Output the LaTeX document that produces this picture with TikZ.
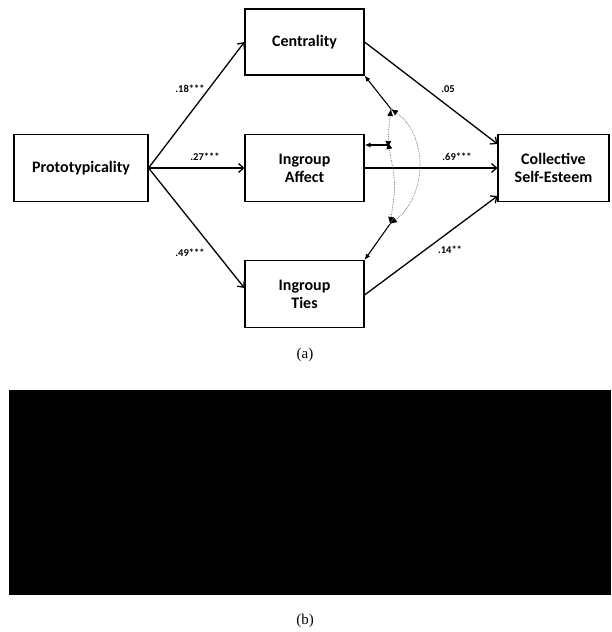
\documentclass[tikz,border=0pt]{standalone}
\usepackage{fontspec}
\setmainfont{Carlito}
\newfontfamily\capfont{Liberation Serif}
\usetikzlibrary{arrows.meta}
\begin{document}
\begin{tikzpicture}[x=1pt,y=-1pt,
  box/.style={draw,line width=1.1pt,rectangle,align=center,font=\bfseries\fontsize{16}{18}\selectfont,inner sep=0pt},
  arr/.style={line width=1.3pt,-{Straight Barb[length=5pt,width=9pt,line width=1.3pt]}},
  corr/.style={line width=1.1pt,-{Latex[length=6pt,width=5pt]}},
  dot/.style={densely dotted,line width=0.7pt,gray!80!black},
  dtip/.style={dot,{Latex[length=7pt,width=6pt,black]}-{Latex[length=7pt,width=6pt,black]}},
  coef/.style={font=\bfseries\fontsize{10.5}{12}\selectfont,inner sep=1pt},
  captxt/.style={font=\capfont\fontsize{15}{17}\selectfont}]
\useasboundingbox (0,0) rectangle (611,632);
\node[box,minimum width=134pt,minimum height=67pt] (proto) at (81,168) {Prototypicality};
\node[box,minimum width=119pt,minimum height=66pt] (cent) at (304.5,42) {Centrality};
\node[box,minimum width=119pt,minimum height=67pt] (aff) at (304.5,168) {Ingroup\\Affect};
\node[box,minimum width=119pt,minimum height=67pt] (ties) at (304.5,294) {Ingroup\\Ties};
\node[box,minimum width=111pt,minimum height=67pt] (cse) at (553.5,168) {Collective\\Self-Esteem};
% paths
\draw[arr] (proto.east) -- (cent.west);
\draw[arr] (proto.east) -- (aff.west);
\draw[arr] (proto.east) -- ([yshift=6pt]ties.west);
\draw[arr] (cent.east) -- ([yshift=24pt]cse.west);
\draw[arr] (aff.east) -- (cse.west);
\draw[arr] ([yshift=-1pt]ties.east) -- ([yshift=-28pt]cse.west);
% coefficients
\node[coef] (l1) at (190,89) {.18***};
\node[coef] (l2) at (205,157) {.27***};
\node[coef] (l3) at (190,253) {.49***};
\node[coef] (l4) at (448,89) {.05};
\node[coef] (l5) at (457,157) {.69***};
\node[coef] (l6) at (450,250) {.14**};
% correlations
\coordinate (c1) at (391,109);
\coordinate (c2) at (388,145);
\coordinate (c3) at (390,224);
\draw[corr] (c1) -- (cent.south east);
\draw[corr] (c2) -- (aff.east |- c2);
\draw[corr] (c3) -- (ties.north east);
\draw[dtip] (c1) .. controls (389,125) .. ([yshift=-3pt]c2);
\draw[dtip] ([yshift=3pt]c2) .. controls (396,185) .. (c3);
\draw[dtip] (c1) .. controls (428,135) and (428,195) .. (c3);
% captions
\node[captxt] (ca) at (305,355) {(a)};
\fill (9,390) rectangle (611,595);
\node[captxt] (cb) at (305,621) {(b)};
\end{tikzpicture}
\end{document}
